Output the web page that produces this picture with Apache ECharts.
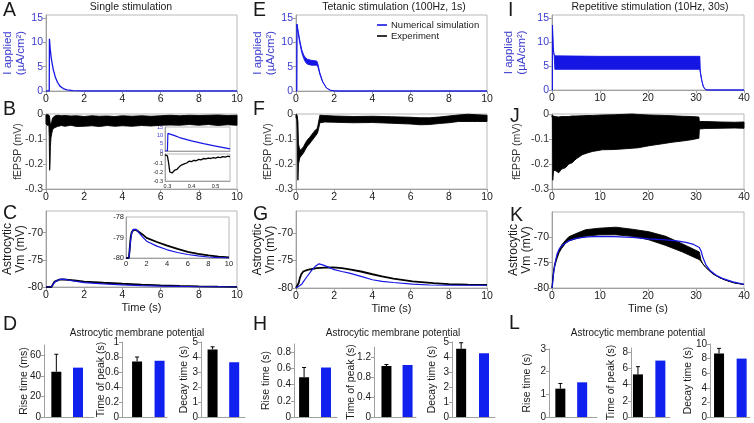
<!DOCTYPE html>
<html><head><meta charset="utf-8">
<script src="https://cdn.jsdelivr.net/npm/echarts@6/dist/echarts.min.js"></script>
<style>html,body{margin:0;padding:0;background:#fff}#c{width:754px;height:423px}</style>
</head><body><div id="c"></div>
<script>
// ---------------- DATA ----------------
// Single stimulation
const singleIapp = [[0,0],[0.17,0],[0.18,10.7],[0.22,8.6],[0.28,6.6],[0.38,4.4],[0.5,2.7],[0.6,1.8],[0.73,1.0],[0.9,0.5],[1.1,0.25],[1.4,0.08],[2,0],[10,0]];
const singleFepspBand = [[0,-0.040,-0.004],[0.08,-0.046,-0.002],[0.15,-0.044,-0.005],[0.17,-0.09,-0.006],[0.19,-0.225,-0.012],[0.21,-0.20,-0.03],[0.23,-0.13,-0.045],[0.26,-0.095,-0.04],[0.3,-0.078,-0.03],[0.35,-0.062,-0.016],[0.45,-0.055,-0.008],[0.6,-0.05,-0.005],[0.8,-0.046,-0.007],[1.0,-0.049,-0.006],[1.3,-0.045,-0.008],[1.6,-0.05,-0.007],[2.0,-0.049,-0.01],[2.4,-0.047,-0.007],[2.8,-0.05,-0.009],[3.2,-0.046,-0.008],[3.6,-0.049,-0.01],[4.0,-0.047,-0.007],[4.5,-0.049,-0.009],[5.0,-0.046,-0.007],[5.5,-0.048,-0.009],[6.0,-0.045,-0.007],[6.5,-0.044,-0.005],[7.0,-0.045,-0.007],[7.5,-0.042,-0.005],[8.0,-0.045,-0.006],[8.5,-0.042,-0.005],[9.0,-0.046,-0.004],[9.5,-0.043,-0.006],[10,-0.045,-0.005]];
const insetIapp = [[0.29,0],[0.3,0],[0.302,11],[0.33,9.6],[0.35,8.4],[0.4,6.3],[0.45,4.6],[0.5,3.1],[0.55,1.6],[0.56,1.3]];
const insetFepsp = [[0.29,-0.01],[0.295,-0.03],[0.3,-0.02],[0.305,-0.1],[0.31,-0.2],[0.315,-0.22],[0.32,-0.21],[0.33,-0.18],[0.34,-0.17],[0.35,-0.14],[0.36,-0.12],[0.37,-0.11],[0.38,-0.1],[0.39,-0.08],[0.4,-0.085],[0.41,-0.07],[0.42,-0.075],[0.43,-0.06],[0.44,-0.065],[0.45,-0.05],[0.46,-0.055],[0.47,-0.045],[0.48,-0.05],[0.49,-0.04],[0.5,-0.045],[0.51,-0.035],[0.52,-0.04],[0.53,-0.03],[0.54,-0.035],[0.55,-0.025],[0.56,-0.03]];
const singleVmExp = [[0,-80],[0.28,-80],[0.35,-79.6],[0.45,-79.0],[0.55,-78.75],[0.7,-78.65],[0.9,-78.62],[1.2,-78.7],[1.6,-78.85],[2,-79.02],[3,-79.22],[4,-79.4],[5,-79.56],[6,-79.7],[7,-79.8],[8,-79.87],[9,-79.93],[10,-79.97]];
const singleVmSim = [[0,-80],[0.28,-80],[0.35,-79.7],[0.45,-79.1],[0.55,-78.8],[0.7,-78.6],[0.85,-78.55],[1.0,-78.6],[1.3,-78.8],[1.6,-78.97],[2,-79.18],[3,-79.42],[4,-79.6],[5,-79.73],[6,-79.83],[7,-79.9],[8,-79.95],[9,-79.98],[10,-80]];
// Tetanic stimulation
const tetanicIappBand = [[0,0,0],[0.04,0,0],[0.05,13.7,13.7],[0.1,12.2,12.6],[0.2,9.8,10.4],[0.3,7.9,8.5],[0.4,6.7,7.4],[0.5,5.9,6.8],[0.6,5.5,6.5],[0.8,5.3,6.3],[1.0,5.3,6.2],[1.1,5.3,6.1],[1.15,4.9,5.5],[1.25,3.4,3.7],[1.4,1.8,1.9],[1.6,0.6,0.6],[1.8,0.15,0.15],[2.0,0.02,0.02],[2.3,0,0],[10,0,0]];
const tetanicFepspBand = [[0,-0.015,-0.002],[0.04,-0.02,-0.002],[0.06,-0.06,-0.005],[0.1,-0.265,-0.03],[0.13,-0.2,-0.12],[0.2,-0.175,-0.145],[0.3,-0.165,-0.14],[0.4,-0.155,-0.13],[0.5,-0.14,-0.115],[0.6,-0.128,-0.103],[0.7,-0.12,-0.095],[0.8,-0.11,-0.085],[0.9,-0.1,-0.075],[1.0,-0.09,-0.065],[1.1,-0.08,-0.06],[1.15,-0.07,-0.045],[1.25,-0.035,-0.005],[1.5,-0.032,-0.006],[2,-0.033,-0.008],[3,-0.035,-0.01],[4,-0.034,-0.009],[5,-0.037,-0.011],[6,-0.04,-0.013],[6.5,-0.043,-0.015],[7,-0.042,-0.015],[7.5,-0.038,-0.012],[8,-0.035,-0.008],[8.5,-0.03,-0.004],[9,-0.03,-0.001],[9.5,-0.03,-0.003],[10,-0.03,-0.005]];
const tetanicVmExp = [[0,-80],[0.1,-80],[0.15,-79],[0.2,-78.2],[0.28,-77.5],[0.38,-77.0],[0.6,-76.7],[1.08,-76.4],[1.5,-76.3],[1.95,-76.25],[2.4,-76.4],[2.8,-76.6],[3.4,-77.0],[4.0,-77.5],[4.5,-77.9],[5.1,-78.3],[6.1,-78.8],[7.2,-79.1],[8,-79.3],[9,-79.4],[10,-79.45]];
const tetanicVmSim = [[0,-80],[0.1,-80],[0.3,-79.3],[0.56,-78.0],[0.8,-76.9],[1.0,-76.1],[1.2,-75.6],[1.4,-75.8],[1.7,-76.2],[1.95,-76.6],[2.4,-77.0],[2.8,-77.3],[3.4,-77.9],[4.0,-78.5],[4.5,-78.8],[5.1,-79.0],[6.1,-79.3],[7,-79.45],[8,-79.5],[10,-79.5]];
// Repetitive stimulation
const repIappBand = [[0,0,0],[0.08,0,0],[0.1,13.5,13.5],[0.15,11.5,11.5],[0.25,9,9],[0.35,7.8,7.8],[0.45,7.2,7.4],[0.6,4.3,7.1],[10,4.3,7.0],[20,4.3,7.0],[30.8,4.3,7.0],[30.9,3.6,3.9],[31.2,2.0,2.0],[31.5,0.8,0.8],[31.8,0.25,0.25],[32.2,0.03,0.03],[33,0,0],[40,0,0]];
const repFepspBand = [[0,-0.012,-0.005],[0.1,-0.015,-0.005],[0.15,-0.265,-0.008],[0.3,-0.23,-0.008],[0.6,-0.225,-0.01],[1.4,-0.235,-0.012],[2,-0.22,-0.01],[2.8,-0.215,-0.01],[3.5,-0.2,-0.01],[4.2,-0.195,-0.008],[5,-0.18,-0.008],[6.3,-0.163,-0.007],[7.5,-0.155,-0.006],[8.4,-0.15,-0.006],[10.5,-0.143,-0.004],[13,-0.142,-0.003],[16.7,-0.137,0.0],[18,-0.135,-0.002],[20.2,-0.127,-0.004],[23.7,-0.117,-0.006],[25,-0.113,-0.007],[27.2,-0.108,-0.009],[29,-0.103,-0.01],[30.6,-0.097,-0.012],[30.7,-0.06,-0.03],[32,-0.058,-0.03],[35,-0.057,-0.032],[38,-0.056,-0.033],[40,-0.057,-0.032]];
const repVmExpBand = [[0,-80,-80],[0.2,-78,-77.5],[0.5,-76,-75.5],[1,-74.3,-73.8],[1.5,-73,-72.5],[2,-72.2,-71.5],[2.8,-71.2,-70.6],[3.5,-70.7,-69.9],[4.9,-70.3,-69.3],[7,-69.8,-68.5],[9.8,-69.5,-68.2],[13.3,-69.5,-68],[16.7,-69.8,-68.4],[20.2,-70.5,-68.9],[23.7,-71.6,-69.8],[27.2,-72.9,-71.3],[30.7,-74.4,-72.9],[31,-74.7,-74.4],[31.4,-75.2,-75.2],[32,-75.9,-75.9],[33.5,-77.2,-77.2],[35,-78,-78],[36.3,-78.5,-78.5],[38,-79,-79],[40,-79.3,-79.3]];
const repVmSim = [[0,-80],[0.1,-79.5],[0.35,-76.9],[0.7,-74.8],[1.05,-73.3],[1.5,-72.3],[2.1,-71.6],[2.8,-71.1],[3.5,-70.7],[4.5,-70.35],[5.6,-70.1],[7.5,-69.9],[9.8,-69.8],[13,-69.85],[16.7,-70.0],[20.2,-70.3],[23.7,-70.5],[26,-70.7],[27.9,-71.0],[29.5,-71.4],[30.7,-72.0],[31.1,-72.8],[31.4,-73.9],[31.8,-74.8],[32.1,-75.5],[33,-76.6],[34.2,-77.5],[35.5,-78.1],[37.7,-78.8],[40,-79.3]];
// Bar summaries: [rise time, time of peak, decay time]
const barNames = ['Rise time (ms)','Time of peak (s)','Decay time (s)'];
const barNamesS = ['Rise time (s)','Time of peak (s)','Decay time (s)'];
const expD = [44, 0.74, 4.5],  expErrTopD = [61, 0.8, 4.68],  simD = [48, 0.75, 3.65];
const expH = [0.49, 1.02, 4.55], expErrTopH = [0.61, 1.05, 4.95], simH = [0.61, 1.04, 4.25];
const expL = [1.25, 5.25, 8.7], expErrTopL = [1.48, 6.2, 9.4], simL = [1.53, 6.95, 8.0];

// ---------------- BUILD ----------------
const FONT='Liberation Sans';
const GRAY='#a0a0a0', BOX='#b8b8b8', BLUE='#1616e4', BLUE_TXT='#3a3ad0', BLUE_BAR='#1020ee', INK='#1a1a1a';
const TICK=10.5;
const grids=[], xAxis=[], yAxis=[], series=[], graphic=[];
function addGrid(g, xa, ya){ const i=grids.length; grids.push(Object.assign({containLabel:false, outerBoundsMode:'none'}, g)); xAxis.push(Object.assign({gridIndex:i}, xa)); yAxis.push(Object.assign({gridIndex:i}, ya)); return i; }
function lbl(size,color,extra){ return Object.assign({fontSize:size,color:color||INK,fontFamily:FONT},extra||{}); }
function mainX(max,interval,name){ return {type:'value',min:0,max,interval,axisLine:{show:true,onZero:false,lineStyle:{color:GRAY}},axisTick:{show:true,length:3,lineStyle:{color:GRAY}},axisLabel:lbl(TICK,INK,{margin:3}),splitLine:{show:false},name:name||'',nameLocation:'middle',nameGap:15,nameMoveOverlap:false,nameTextStyle:lbl(11,INK,{verticalAlign:'top'})}; }
function mainY(min,max,interval,name,gap,color,hideMax,nameSize){ return {type:'value',min,max,interval,axisLine:{show:true,onZero:false,lineStyle:{color:GRAY}},axisTick:{show:true,length:3,lineStyle:{color:GRAY}},axisLabel:lbl(TICK,color||INK,{margin:3,showMaxLabel:!hideMax}),splitLine:{show:false},name,nameLocation:'middle',nameRotate:90,nameGap:gap,nameMoveOverlap:false,nameTextStyle:lbl(nameSize,color||INK,{lineHeight:nameSize+1})}; }
function addLine(gi,data,color,width,name){ series.push({type:'line',name,xAxisIndex:gi,yAxisIndex:gi,symbol:'none',showSymbol:false,silent:true,data,lineStyle:{color,width},itemStyle:{color},z:3}); }
function addBand(gi,triples,color){
  series.push({type:'custom',xAxisIndex:gi,yAxisIndex:gi,silent:true,z:2,data:triples,encode:{x:0,y:[1,2]},
    renderItem:(p,api)=>{
      if(p.dataIndex!==0) return null;
      const up=triples.map(d=>api.coord([d[0],d[2]]));
      const lo=triples.map(d=>api.coord([d[0],d[1]])).reverse();
      return {type:'polygon',shape:{points:up.concat(lo)},style:{fill:color,stroke:color,lineWidth:0.9}};
    }});
}
function errRender(p,api){
  const x=api.value(0), m=api.value(1), t=api.value(2);
  const a=api.coord([x,m]), b=api.coord([x,t]);
  return {type:'group',children:[
    {type:'line',shape:{x1:a[0],y1:a[1],x2:b[0],y2:b[1]},style:{stroke:'#000',lineWidth:1}},
    {type:'line',shape:{x1:b[0]-2,y1:b[1],x2:b[0]+2,y2:b[1]},style:{stroke:'#000',lineWidth:1}}]};
}
function addBarPanel(g,xmin,xmax,ymax,interval,name,gap,exp,errTop,sim){
  const hideMax=Math.abs(ymax/interval-Math.round(ymax/interval))>1e-6;
  const gi=addGrid(g,
    {type:'value',min:xmin,max:xmax,axisLine:{show:true,onZero:false,lineStyle:{color:GRAY}},axisTick:{show:false},axisLabel:{show:false},splitLine:{show:false}},
    {type:'value',min:0,max:ymax,interval,axisLine:{show:true,onZero:false,lineStyle:{color:GRAY}},axisTick:{show:true,length:3,lineStyle:{color:GRAY}},axisLabel:lbl(10,INK,{margin:3,showMaxLabel:!hideMax}),splitLine:{show:false},name,nameLocation:'middle',nameRotate:90,nameGap:gap,nameMoveOverlap:false,nameTextStyle:lbl(10.5)});
  series.push({type:'bar',xAxisIndex:gi,yAxisIndex:gi,barWidth:10,silent:true,data:[{value:[1,exp],itemStyle:{color:'#000'}},{value:[2,sim],itemStyle:{color:BLUE_BAR}}]});
  series.push({type:'custom',xAxisIndex:gi,yAxisIndex:gi,silent:true,data:[[1,exp,errTop]],renderItem:errRender,z:5});
}
const boxed={show:true,borderColor:BOX,borderWidth:1};
const insetAxis={axisLine:{show:true,onZero:false,lineStyle:{color:GRAY}},axisTick:{show:false},splitLine:{show:false}};

// Column 1 : single stimulation
let g;
g=addGrid(Object.assign({left:46,top:15,width:191,height:76},boxed), mainX(10,2), mainY(0,15.6,5,'I applied\n(µA/cm²)',19,BLUE_TXT,true,11.5));
addLine(g,singleIapp,BLUE,1.3,'Numerical simulation');
g=addGrid(Object.assign({left:46,top:114,width:191,height:75},boxed), mainX(10,2), mainY(-0.3,0,0.1,'fEPSP (mV)',22,'#333',false,10.5));
addBand(g,singleFepspBand,'#000');
g=addGrid(Object.assign({left:46,top:211,width:191,height:76},boxed), mainX(10,2,'Time (s)'), mainY(-80,-66,5,'Astrocytic\nVm (mV)',19,INK,true,12));
addLine(g,singleVmExp,'#000',1.8,'Experiment');
addLine(g,singleVmSim,BLUE,1.2);
// insets
g=addGrid(Object.assign({left:165,top:127,width:65,height:24},boxed),
  Object.assign({type:'value',min:0.29,max:0.56,axisLabel:{show:false}},insetAxis),
  Object.assign({type:'value',min:0,max:15,interval:5,axisLabel:lbl(5.5,BLUE_TXT,{margin:2})},insetAxis));
addLine(g,insetIapp,BLUE,1.2);
g=addGrid(Object.assign({left:165,top:154,width:65,height:27},boxed),
  Object.assign({type:'value',min:0.29,max:0.56,splitNumber:3,axisLabel:lbl(5.5,INK,{margin:2,showMinLabel:false,showMaxLabel:false,formatter:v=>Math.abs(v*10-Math.round(v*10))<1e-6?v.toFixed(1):''})},insetAxis),
  Object.assign({type:'value',min:-0.3,max:0,interval:0.1,axisLabel:lbl(5.5,INK,{margin:2})},insetAxis));
addLine(g,insetFepsp,'#000',1.3);
g=addGrid(Object.assign({left:126,top:217,width:103,height:41},boxed),
  Object.assign({type:'value',min:0,max:10,interval:2,axisLabel:lbl(7.5,INK,{margin:2})},insetAxis),
  Object.assign({type:'value',min:-80,max:-78,interval:1,axisLabel:lbl(7.5,INK,{margin:2})},insetAxis));
addLine(g,singleVmExp,'#000',1.8);
addLine(g,singleVmSim,BLUE,1.2);

// Column 2 : tetanic stimulation
g=addGrid(Object.assign({left:296,top:15,width:191,height:76},boxed), mainX(10,2), mainY(0,15.6,5,'I applied\n(µA/cm²)',19,BLUE_TXT,true,11.5));
addBand(g,tetanicIappBand,BLUE);
g=addGrid(Object.assign({left:296,top:114,width:191,height:75},boxed), mainX(10,2), mainY(-0.3,0,0.1,'fEPSP (mV)',22,'#333',false,10.5));
addBand(g,tetanicFepspBand,'#000');
g=addGrid(Object.assign({left:296,top:211,width:191,height:77},boxed), mainX(10,2,'Time (s)'), mainY(-80,-66,5,'Astrocytic\nVm (mV)',19,INK,true,12));
addLine(g,tetanicVmExp,'#000',1.8);
addLine(g,tetanicVmSim,BLUE,1.2);

// Column 3 : repetitive stimulation
g=addGrid(Object.assign({left:552,top:15,width:192,height:75},boxed), mainX(40,10), mainY(0,15.6,5,'I applied\n(µA/cm²)',24,BLUE_TXT,true,11.5));
addBand(g,repIappBand,BLUE);
g=addGrid(Object.assign({left:552,top:114,width:192,height:75},boxed), mainX(40,10), mainY(-0.3,0,0.1,'fEPSP (mV)',29,'#333',false,10.5));
addBand(g,repFepspBand,'#000');
g=addGrid(Object.assign({left:552,top:212,width:192,height:76},boxed), mainX(40,10,'Time (s)'), mainY(-80,-65,5,'Astrocytic\nVm (mV)',19,INK,true,12));
addBand(g,repVmExpBand,'#000');
addLine(g,repVmSim,BLUE,1.2);

// Bar panels
addBarPanel({left:44,top:345,width:50,height:72},0.43,2.74,70,20,barNames[0],14,expD[0],expErrTopD[0],simD[0]);
addBarPanel({left:122,top:342,width:45,height:75},0.33,2.33,1,0.2,barNames[1],15,expD[1],expErrTopD[1],simD[1]);
addBarPanel({left:201,top:342,width:44,height:75},0.465,2.5,5,1,barNames[2],11,expD[2],expErrTopD[2],simD[2]);
addBarPanel({left:294,top:344,width:43,height:73},0.54,2.5,0.9,0.2,barNamesS[0],22,expH[0],expErrTopH[0],simH[0]);
addBarPanel({left:374,top:347,width:42,height:70},0.41,2.4,1.4,0.4,barNamesS[1],17,expH[1],expErrTopH[1],simH[1]);
addBarPanel({left:452,top:342,width:43,height:75},0.6,2.48,5,1,barNamesS[2],14,expH[2],expErrTopH[2],simH[2]);
addBarPanel({left:549,top:349,width:48,height:68},0.48,2.68,3,1,barNamesS[0],16,expL[0],expErrTopL[0],simL[0]);
addBarPanel({left:631,top:348,width:39,height:69},0.69,2.43,8.5,2,barNamesS[1],14,expL[1],expErrTopL[1],simL[1]);
addBarPanel({left:710,top:344,width:40,height:73},0.6,2.37,10,2,barNamesS[2],16,expL[2],expErrTopL[2],simL[2]);

// Texts
function txt(x,y,text,size,align){ graphic.push({type:'text',x,y,silent:true,style:{text,fontSize:size,fontFamily:FONT,fill:INK,align:align||'left',textAlign:align||'left',verticalAlign:'middle',textVerticalAlign:'middle'}}); }
[['A',3,10.5],['B',3,109.5],['C',3,213.5],['D',3,324.5],['E',253,10.5],['F',253,109.5],['G',253,214.5],['H',253,324.5],['I',508,10.5],['J',510,117],['K',510,216],['L',509,323.5]].forEach(d=>txt(d[1],d[2],d[0],19.5));
txt(131,7,'Single stimulation',10.5,'center');
txt(394,7,'Tetanic stimulation (100Hz, 1s)',10.5,'center');
txt(650,7,'Repetitive stimulation (10Hz, 30s)',10.5,'center');
txt(137,333,'Astrocytic membrane potential',10,'center');
txt(393,333,'Astrocytic membrane potential',10,'center');
txt(638,333,'Astrocytic membrane potential',10,'center');

const chart = echarts.init(document.getElementById('c'), null, {renderer:'canvas'});
chart.setOption({
  animation:false,
  backgroundColor:'#fff',
  textStyle:{fontFamily:FONT},
  grid:grids, xAxis, yAxis, series, graphic,
  legend:{data:['Numerical simulation','Experiment'],left:377,top:20,orient:'vertical',icon:'rect',itemWidth:10,itemHeight:1.6,itemGap:1,padding:0,selectedMode:false,textStyle:{fontSize:9.5,fontFamily:FONT,color:INK,lineHeight:10,padding:[0,0,0,-1]}}
});
</script></body></html>
